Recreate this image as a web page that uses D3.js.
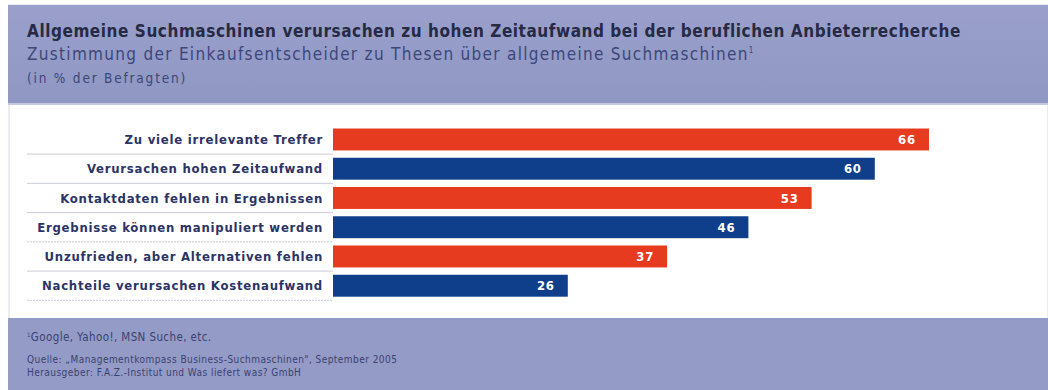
<!DOCTYPE html>
<html>
<head>
<meta charset="utf-8">
<script src="https://cdn.jsdelivr.net/npm/d3@7"></script>
<style>
  body { margin: 0; background: #fff; }
  svg { display: block; }
</style>
</head>
<body>
<div id="chart"></div>
<script>
// chart data
const categories = [
  "Zu viele irrelevante Treffer",
  "Verursachen hohen Zeitaufwand",
  "Kontaktdaten fehlen in Ergebnissen",
  "Ergebnisse können manipuliert werden",
  "Unzufrieden, aber Alternativen fehlen",
  "Nachteile verursachen Kostenaufwand"
];
const values = [66, 60, 53, 46, 37, 26];
const barColors = ["#e63b1f", "#0f3f8b"];

const titleText = "Allgemeine Suchmaschinen verursachen zu hohen Zeitaufwand bei der beruflichen Anbieterrecherche";
const subtitleText = "Zustimmung der Einkaufsentscheider zu Thesen über allgemeine Suchmaschinen";
const unitText = "(in % der Befragten)";
const footnoteText = "Google, Yahoo!, MSN Suche, etc.";
const sourceLines = [
  "Quelle: „Managementkompass Business-Suchmaschinen\", September 2005",
  "Herausgeber: F.A.Z.-Institut und Was liefert was? GmbH"
];

const W = 1048, H = 390;
const svg = d3.select("#chart").append("svg")
    .attr("width", W)
    .attr("height", H);

// panel backgrounds
const grad = svg.append("defs").append("linearGradient")
    .attr("id", "band").attr("x1", 0).attr("y1", 0).attr("x2", 0).attr("y2", 1);
grad.append("stop").attr("offset", "0%").attr("stop-color", "#9aa0cb");
grad.append("stop").attr("offset", "100%").attr("stop-color", "#8f97c3");

svg.append("rect").attr("x", 9).attr("y", 5).attr("width", W - 9).attr("height", H - 5)
    .attr("fill", "#fff").attr("stroke", "#d8dbe8");
svg.append("rect").attr("x", 8).attr("y", 5).attr("width", W - 8).attr("height", 99)
    .attr("fill", "url(#band)");
svg.append("line").attr("x1", 8).attr("x2", W).attr("y1", 104).attr("y2", 104)
    .attr("stroke", "#c5c9e0").attr("stroke-width", 2);
svg.append("rect").attr("x", 8).attr("y", 318).attr("width", W - 8).attr("height", H - 318)
    .attr("fill", "#949bc7");

// header texts
const font = "'DejaVu Sans Condensed', 'Liberation Sans Narrow', sans-serif";
svg.append("text").attr("x", 27).attr("y", 37)
    .style("font-family", font).style("font-weight", "bold").style("font-size", "17px")
    .style("letter-spacing", "0.55px")
    .attr("fill", "#262a45").text(titleText);
const sub = svg.append("text").attr("x", 27).attr("y", 60)
    .style("font-family", font).style("font-size", "17px")
    .style("letter-spacing", "1.3px")
    .attr("fill", "#3c477a").text(subtitleText);
sub.append("tspan").attr("dy", -7).style("font-size", "8px").text("1");
svg.append("text").attr("x", 27).attr("y", 83)
    .style("font-family", font).style("font-size", "13.5px")
    .style("letter-spacing", "1.8px")
    .attr("fill", "#3c477a").text(unitText);

// scales
const x0 = 333, rowTop = 125, rowH = 29.2;
const x = d3.scaleLinear().domain([0, 66]).range([x0, 929]);
const y = d3.scaleBand().domain(categories)
    .range([rowTop, rowTop + rowH * categories.length]).paddingInner(0.25).paddingOuter(0.12);

const g = svg.append("g");

// separator lines under the labels
g.selectAll(".sep").data(categories).join("line")
    .attr("class", "sep")
    .attr("x1", 27).attr("x2", x0)
    .attr("y1", d => y(d) + y.bandwidth() + y.step() * 0.125)
    .attr("y2", d => y(d) + y.bandwidth() + y.step() * 0.125)
    .attr("stroke", "#c9ccd8").attr("stroke-width", 1)
    .attr("stroke-dasharray", (d, i) => i === 3 || i === 5 ? "2,1" : null);

// bars
g.selectAll(".bar").data(values).join("rect")
    .attr("class", "bar")
    .attr("x", x(0))
    .attr("y", (d, i) => y(categories[i]))
    .attr("width", d => x(d) - x(0))
    .attr("height", y.bandwidth())
    .attr("fill", (d, i) => barColors[i % 2]);

// value labels
g.selectAll(".val").data(values).join("text")
    .attr("class", "val")
    .attr("x", d => x(d) - 13)
    .attr("y", (d, i) => y(categories[i]) + y.bandwidth() / 2)
    .attr("dy", "0.36em")
    .attr("text-anchor", "end")
    .style("font-family", font).style("font-weight", "bold").style("font-size", "13px")
    .style("letter-spacing", "0.8px")
    .attr("fill", "#fff")
    .text(d => d);

// category labels
g.selectAll(".cat").data(categories).join("text")
    .attr("class", "cat")
    .attr("x", 323)
    .attr("y", d => y(d) + y.bandwidth() / 2)
    .attr("dy", "0.36em")
    .attr("text-anchor", "end")
    .style("font-family", font).style("font-weight", "bold").style("font-size", "13px")
    .style("letter-spacing", "0.75px")
    .attr("fill", "#2b3466")
    .text(d => d);

// footer
const fn = svg.append("text").attr("x", 27).attr("y", 341)
    .style("font-family", font).style("font-size", "11.5px").style("letter-spacing", "0.4px")
    .attr("fill", "#3a4270");
fn.append("tspan").attr("dy", -4).style("font-size", "6px").text("1");
fn.append("tspan").attr("dy", 4).text(footnoteText);
svg.selectAll(".src").data(sourceLines).join("text")
    .attr("class", "src")
    .attr("x", 27)
    .attr("y", (d, i) => 363 + i * 13)
    .style("font-family", font).style("font-size", "10px")
    .style("letter-spacing", "0.45px")
    .attr("fill", "#3a4270")
    .text(d => d);
</script>
</body>
</html>
